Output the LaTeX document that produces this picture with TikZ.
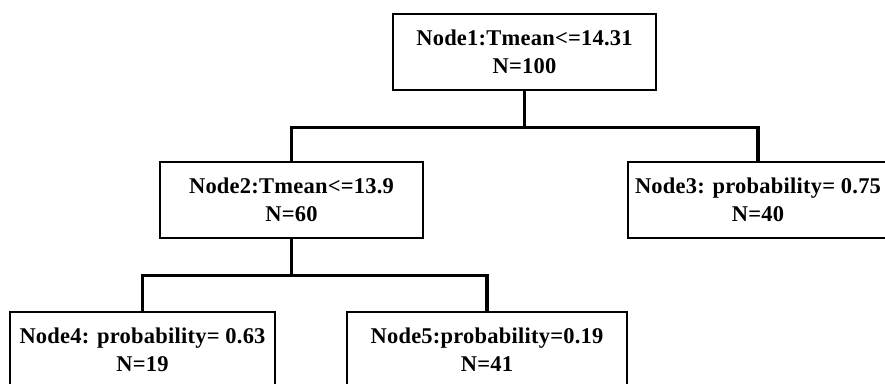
\documentclass[tikz,border=0pt]{standalone}
\usepackage{fontspec}
\setmainfont[LetterSpace=1]{Liberation Serif}
\usetikzlibrary{positioning,calc}

\begin{document}
\begin{tikzpicture}[x=1pt,y=-1pt,
  box/.style={draw, line width=2.8pt, rectangle, minimum height=76pt, align=center,
    inner sep=0pt, font=\fontsize{22.5}{28}\selectfont\bfseries},
  link/.style={line width=3.6pt}]
\useasboundingbox (0,0) rectangle (885,383);
\clip (0,0) rectangle (885,383);
\node[box, minimum width=263pt] (n1) at (524.5,52) {Node1:Tmean<=14.31\\N=100};
\node[box, minimum width=263pt] (n2) at (291.5,200) {Node2:Tmean<=13.9\\N=60};
\node[box, minimum width=260pt] (n3) at (758,200) {Node3: probability= 0.75\\N=40};
\node[box, minimum width=265pt] (n4) at (142.5,350) {Node4: probability= 0.63\\N=19};
\node[box, minimum width=280pt] (n5) at (487,350) {Node5:probability=0.19\\N=41};
\coordinate (j1) at ($(n1.south)+(0,36)$);
\coordinate (j2) at ($(n2.south)+(0,36)$);
\draw[link] (n1.south) -- (j1);
\draw[link] (n2.north) |- (j1) -| (n3.north);
\draw[link] (n2.south) -- (j2);
\draw[link] (n4.north) |- (j2) -| (n5.north);
\end{tikzpicture}
\end{document}
